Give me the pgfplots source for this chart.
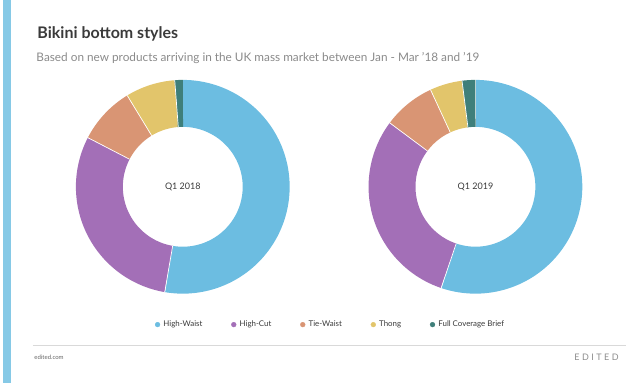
\documentclass[border=0pt]{standalone}
\usepackage{pgfplots}
\pgfplotsset{compat=1.18}
\usepackage{fontspec}
\setmainfont{Lato}
\definecolor{hw}{HTML}{6CBDE1}
\definecolor{hc}{HTML}{A36FB7}
\definecolor{tw}{HTML}{D99574}
\definecolor{th}{HTML}{E2C56B}
\definecolor{fcb}{HTML}{3F7F7A}
\definecolor{bar}{HTML}{86C9E6}
\definecolor{titlec}{HTML}{3A3A3A}
\definecolor{subc}{HTML}{8A8A8A}
% ring slice: centre x, centre y, cumulative start %, cumulative end %, colour
\newcommand\ring[5]{%
  \addplot[draw=#5, line width=47pt, line cap=butt, domain={3.6*#3}:{3.6*#4}, samples=120, variable=\t, forget plot]
    ({#1+83.5*sin(\t)},{#2-83.5*cos(\t)});
  \addplot[draw=white, line width=0.7pt, forget plot] coordinates {({#1+60*sin(3.6*#3)},{#2-60*cos(3.6*#3)}) ({#1+107*sin(3.6*#3)},{#2-107*cos(3.6*#3)})};
}
\begin{document}
\begin{tikzpicture}
\begin{axis}[
  width=627pt, height=388pt, scale only axis,
  xmin=0, xmax=627, ymin=0, ymax=388, y dir=reverse,
  hide axis, clip=false,
  legend columns=5,
  legend style={at={(axis cs:331,325)}, anchor=center, draw=none, fill=none,
    font=\fontsize{7.9}{9}\selectfont\color{titlec}, column sep=1.5pt,
    /tikz/every even column/.append style={column sep=27pt}},
  legend image code/.code={\draw[mark repeat=2,mark phase=2] plot coordinates {(0cm,0cm)(0.1cm,0cm)(0.2cm,0cm)};},
  legend cell align=left,
]
\path (axis cs:0,0) rectangle (axis cs:627,388);
% Q1 2018: High-Waist 52.7, High-Cut 29.9, Tie-Waist 8.7, Thong 7.5, Full Coverage Brief 1.2
\ring{183}{187}{0}{52.7}{hw}
\ring{183}{187}{52.7}{82.6}{hc}
\ring{183}{187}{82.6}{91.3}{tw}
\ring{183}{187}{91.3}{98.8}{th}
\ring{183}{187}{98.8}{100}{fcb}
% Q1 2019: High-Waist 55.2, High-Cut 30.0, Tie-Waist 7.9, Thong 4.9, Full Coverage Brief 2.0
\ring{476}{187}{0}{55.2}{hw}
\ring{476}{187}{55.2}{85.2}{hc}
\ring{476}{187}{85.2}{93.1}{tw}
\ring{476}{187}{93.1}{98.0}{th}
\ring{476}{187}{98.0}{100}{fcb}
\addlegendimage{only marks, mark=*, mark size=2.4pt, hw}\addlegendentry{High-Waist}
\addlegendimage{only marks, mark=*, mark size=2.4pt, hc}\addlegendentry{High-Cut}
\addlegendimage{only marks, mark=*, mark size=2.4pt, tw}\addlegendentry{Tie-Waist}
\addlegendimage{only marks, mark=*, mark size=2.4pt, th}\addlegendentry{Thong}
\addlegendimage{only marks, mark=*, mark size=2.4pt, fcb}\addlegendentry{Full Coverage Brief}
\fill[bar] (axis cs:3,0) rectangle (axis cs:11,383);
\node[anchor=base west, text=titlec, font=\fontsize{16}{18}\selectfont\bfseries] at (axis cs:34,39) {Bikini bottom styles};
\node[anchor=base west, text=subc, font=\fontsize{11.8}{13}\selectfont] at (axis cs:33,62) {Based on new products arriving in the UK mass market between Jan - Mar '18 and '19};
\node[text=titlec, font=\fontsize{9}{10}\selectfont] at (axis cs:183,187) {Q1 2018};
\node[text=titlec, font=\fontsize{9}{10}\selectfont] at (axis cs:476,187) {Q1 2019};
\draw[color=black!15, line width=1.5pt] (axis cs:33,346) -- (axis cs:627,346);
\node[anchor=base west, text=black!60, font=\fontsize{6}{7}\selectfont] at (axis cs:31,360) {edited.com};
\node[anchor=base east, text=black!45, font=\fontsize{9}{10}\selectfont] at (axis cs:623,361) {E\hspace{2.5pt}D\hspace{2.5pt}I\hspace{2.5pt}T\hspace{2.5pt}E\hspace{2.5pt}D};
\end{axis}
\end{tikzpicture}
\end{document}
